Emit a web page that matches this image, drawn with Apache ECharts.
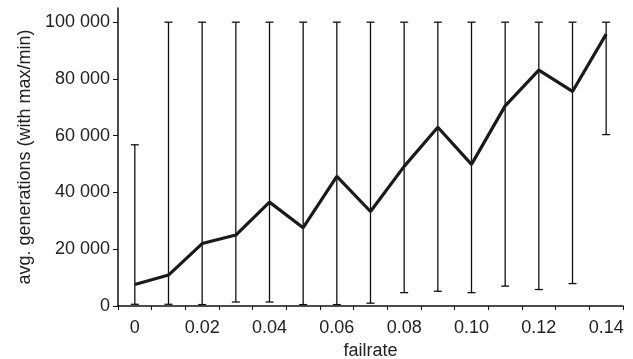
<!DOCTYPE html>
<html>
<head>
<meta charset="utf-8">
<script src="https://cdn.jsdelivr.net/npm/echarts@6/dist/echarts.min.js"></script>
<style>html,body{margin:0;padding:0;background:#fff;}#c{width:633px;height:359px;}</style>
</head>
<body>
<div id="c"></div>
<script>
const categories = ['0','0.01','0.02','0.03','0.04','0.05','0.06','0.07','0.08','0.09','0.10','0.11','0.12','0.13','0.14'];
const avgValues = [7600, 10900, 22000, 25000, 36600, 27600, 45700, 33300, 49200, 63000, 49900, 70500, 83100, 75600, 95800];
const maxValues = [56800, 100000, 100000, 100000, 100000, 100000, 100000, 100000, 100000, 100000, 100000, 100000, 100000, 100000, 100000];
const minValues = [600, 600, 500, 1400, 1400, 500, 500, 1000, 4700, 5200, 4700, 7000, 5800, 7900, 60400];
const yTicks = [0, 20000, 40000, 60000, 80000, 100000];

const FONT = 'Liberation Sans, Arial, Helvetica, sans-serif';
const TXT = '#222';

const chart = echarts.init(document.getElementById('c'), null, {renderer: 'canvas'});
chart.setOption({
  animation: false,
  backgroundColor: '#fff',
  grid: {left: 118, right: 10, top: 8, bottom: 53, containLabel: false, outerBoundsMode: 'none'},
  xAxis: {
    type: 'category',
    data: categories,
    boundaryGap: true,
    name: 'failrate',
    nameLocation: 'middle',
    nameGap: 36,
    nameTextStyle: {color: TXT, fontSize: 18, fontFamily: FONT},
    axisLine: {lineStyle: {color: '#111', width: 1.5}},
    axisTick: {show: true, interval: 0, length: 4, lineStyle: {color: '#111', width: 1}},
    axisLabel: {interval: 1, margin: 13, color: TXT, fontSize: 18, fontFamily: FONT},
    splitLine: {show: false}
  },
  yAxis: {
    type: 'value',
    min: 0, max: 105000, interval: 20000,
    name: 'avg. generations (with max/min)',
    nameLocation: 'middle',
    nameGap: 84,
    nameRotate: 90,
    nameTextStyle: {color: TXT, fontSize: 18, fontFamily: FONT},
    axisLine: {show: true, lineStyle: {color: '#111', width: 1.5}},
    axisTick: {show: true, length: 5, customValues: yTicks, lineStyle: {color: '#111', width: 1}},
    axisLabel: {
      customValues: yTicks,
      margin: 8, color: TXT, fontSize: 18, fontFamily: FONT,
      formatter: v => String(v).replace(/\B(?=(\d{3})+(?!\d))/g, ' ')
    },
    splitLine: {show: false}
  },
  series: [
    {
      type: 'custom',
      z: 1,
      data: categories.map((c, i) => [i, minValues[i], maxValues[i]]),
      encode: {x: 0, y: [1, 2]},
      renderItem: function (params, api) {
        const i = api.value(0);
        const lo = api.coord([i, api.value(1)]);
        const hi = api.coord([i, api.value(2)]);
        const hw = 4;
        const st = {stroke: '#111', lineWidth: 1.3};
        return {
          type: 'group',
          children: [
            {type: 'line', shape: {x1: lo[0], y1: lo[1], x2: hi[0], y2: hi[1]}, style: st},
            {type: 'line', shape: {x1: lo[0] - hw, y1: lo[1], x2: lo[0] + hw, y2: lo[1]}, style: st},
            {type: 'line', shape: {x1: hi[0] - hw, y1: hi[1], x2: hi[0] + hw, y2: hi[1]}, style: st}
          ]
        };
      }
    },
    {
      type: 'line',
      z: 3,
      data: avgValues,
      showSymbol: false,
      symbol: 'none',
      lineStyle: {color: '#1a1a1a', width: 3.2},
      itemStyle: {color: '#1a1a1a'}
    }
  ]
});
</script>
</body>
</html>
